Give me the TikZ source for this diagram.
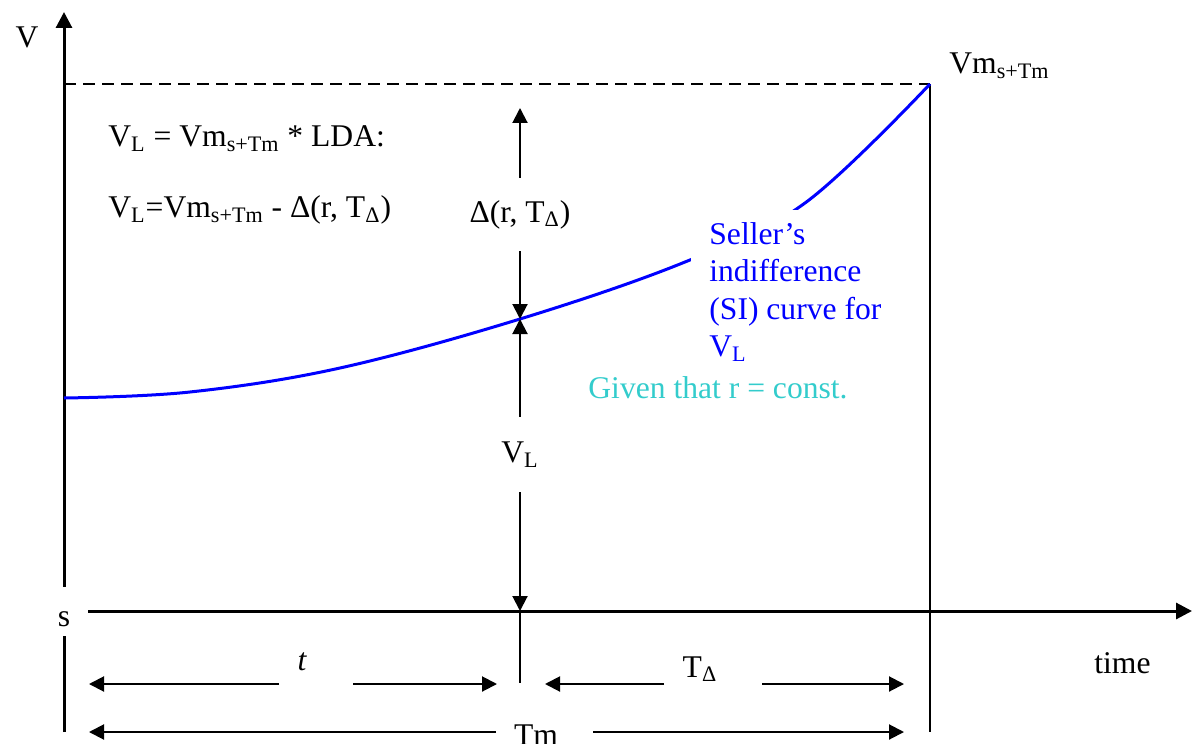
\documentclass[tikz,border=0pt]{standalone}
\usepackage{fontspec}
\setmainfont{Liberation Serif}
\usetikzlibrary{arrows.meta}
\definecolor{curveblue}{RGB}{0,0,255}
\definecolor{notecyan}{RGB}{51,204,204}
\tikzset{
    axis/.style={-{Triangle[length=8pt,width=8pt]}, line width=1.5pt},
    dim/.style={-{Triangle[length=7.5pt,width=7.5pt]}, line width=1pt},
    guide/.style={line width=1pt},
    sicurve/.style={draw=curveblue, line width=1.5pt},
    txt/.style={font=\fontsize{15.8}{18.75}\selectfont, inner sep=0pt}
}
\newcommand{\sbs}[1]{\textsubscript{#1}}

\begin{document}
\begin{tikzpicture}[x=0.5pt, y=-0.5pt]
    \useasboundingbox (0,0) rectangle (1192,743);

    \coordinate (O) at (64,611);
    \coordinate (ytop) at (64,12);
    \coordinate (ybot) at (64,732);
    \coordinate (xend) at (1192,611);
    \coordinate (ypeak) at (64,84);
    \coordinate (peak) at (930,84);
    \coordinate (tmend) at (930,732);
    \coordinate (cut) at (520,611);
    \coordinate (cutlow) at (520,683);
    \coordinate (cross) at (520,319);
    \coordinate (dtop) at (520,108);

    \draw[axis] (ybot) -- (ytop);
    \draw[axis] (O) -- (xend);
    \node[txt, fill=white, minimum width=24pt, minimum height=24.5pt] (s) at (64,611.5) {\raisebox{-4pt}[\height][0pt]{s}};
    \node[txt, anchor=base] (vaxis) at (27,48) {V};

    \draw[guide, dash pattern=on 6pt off 3.5pt] (ypeak) -- (peak);
    \draw[guide] (peak) -- (tmend);
    \draw[guide] (cut) -- (cutlow);

    \draw[sicurve] plot[smooth, tension=0.6] coordinates {(64,398) (190,392) (340,368) (520,319) (685,262) (805,203) (930,84)};

    \node[txt, anchor=base west] (eqone) at (108,147) {V\sbs{L} = Vm\sbs{s+Tm} * LDA:};
    \node[txt, anchor=base west] (eqtwo) at (108,218) {V\sbs{L}=Vm\sbs{s+Tm} - Δ(r, T\sbs{Δ})};
    \node[txt, anchor=base west] (vmax) at (949,74) {Vm\sbs{s+Tm}};
    \node[txt, text=curveblue, fill=white, align=left, anchor=north west, inner xsep=9pt, inner ysep=6pt] (seller) at (691,210) {Seller’s\\indifference\\(SI) curve for\\V\sbs{L}};
    \node[txt, anchor=base west, text=notecyan] (given) at (588,398) {Given that r = const.};

    \node[txt, minimum height=36.5pt] (delta) at (520,214.5) {Δ(r, T\sbs{Δ})};
    \node[txt, minimum height=37.5pt] (vl) at (520,454.5) {V\sbs{L}};
    \draw[dim] (delta.north) -- (dtop);
    \draw[dim] (delta.south) -- (cross);
    \draw[dim] (vl.north) -- (cross);
    \draw[dim] (vl.south) -- (cut);

    \node[txt, anchor=base] (tlab) at (302,670) {\itshape t};
    \node[txt, anchor=base] (tdlab) at (700,677) {T\sbs{Δ}};
    \node[txt, anchor=base] (tmlab) at (536,745) {Tm};
    \node[txt, anchor=base west] (time) at (1094,673) {time};

    \coordinate (ta) at (279,684);
    \coordinate (tb) at (89,684);
    \coordinate (tc) at (353,684);
    \coordinate (td) at (497,684);
    \coordinate (da) at (664,684);
    \coordinate (db) at (545,684);
    \coordinate (dc) at (762,684);
    \coordinate (dd) at (904,684);
    \coordinate (ma) at (496,732);
    \coordinate (mb) at (89,732);
    \coordinate (mc) at (593,732);
    \coordinate (md) at (904,732);

    \draw[dim] (ta) -- (tb);
    \draw[dim] (tc) -- (td);
    \draw[dim] (da) -- (db);
    \draw[dim] (dc) -- (dd);
    \draw[dim] (ma) -- (mb);
    \draw[dim] (mc) -- (md);

\end{tikzpicture}
\end{document}
